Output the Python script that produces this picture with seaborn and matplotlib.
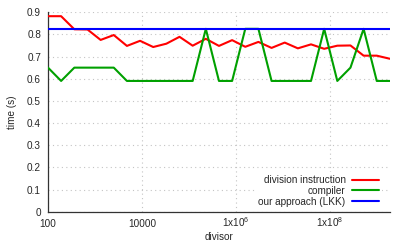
import numpy as np
import pandas as pd
import seaborn as sns
import matplotlib
matplotlib.use("Agg")
import matplotlib.pyplot as plt
from matplotlib.ticker import FixedLocator, FixedFormatter, NullLocator

# divisors (log-spaced)
divisor = [100, 190, 363, 692, 1318, 2512, 4786, 9120, 17378, 33113,
           63096, 120226, 229087, 436516, 831764, 1584893, 3019952,
           5754399, 10964782, 20892961, 39810717, 75857758, 144543977,
           275422870, 524807460, 1000000000, 1905000000]

division_instruction = [0.882, 0.882, 0.823, 0.822, 0.775, 0.797, 0.748, 0.771,
                        0.743, 0.758, 0.789, 0.749, 0.780, 0.748, 0.774, 0.744,
                        0.766, 0.739, 0.763, 0.737, 0.755, 0.735, 0.749, 0.750,
                        0.704, 0.704, 0.690]
compiler = [0.65, 0.59, 0.65, 0.65, 0.65, 0.65, 0.59, 0.59, 0.59, 0.59,
            0.59, 0.59, 0.825, 0.59, 0.59, 0.825, 0.825, 0.59, 0.59, 0.59,
            0.59, 0.825, 0.59, 0.65, 0.825, 0.59, 0.59]
our_approach = [0.825] * len(divisor)

series_names = ["division instruction", "compiler", "our approach (LKK)"]
series_colors = ["#ff0000", "#00a000", "#0000ff"]

xtick_values = [1e2, 1e4, 1e6, 1e8]
xtick_labels = ["100", "10000", r"$\mathregular{1x10^{6}}$", r"$\mathregular{1x10^{8}}$"]
ytick_values = [0, 0.1, 0.2, 0.3, 0.4, 0.5, 0.6, 0.7, 0.8, 0.9]
ytick_labels = ["0", "0.1", "0.2", "0.3", "0.4", "0.5", "0.6", "0.7", "0.8", "0.9"]

df = pd.DataFrame({
    "divisor": divisor,
    series_names[0]: division_instruction,
    series_names[1]: compiler,
    series_names[2]: our_approach,
})
df_long = df.melt(id_vars="divisor", var_name="series", value_name="time")

sns.set_style("white")
plt.rcParams["font.family"] = ["Liberation Sans", "DejaVu Sans"]
plt.rcParams["font.size"] = 7.2
plt.rcParams["mathtext.fontset"] = "custom"
plt.rcParams["mathtext.rm"] = "Liberation Sans"
plt.rcParams["mathtext.it"] = "Liberation Sans:italic"

fig = plt.figure(figsize=(4.07, 2.44), dpi=100)
ax = fig.add_axes([0.118, 0.132, 0.840, 0.818])

ax.set_xscale("log")
sns.lineplot(data=df_long, x="divisor", y="time", hue="series",
             hue_order=series_names, palette=series_colors,
             linewidth=1.5, ax=ax, legend=False, zorder=3)

ax.set_xlim(100, 1905000000)
ax.set_ylim(0, 0.9)

ax.xaxis.set_major_locator(FixedLocator(xtick_values))
ax.xaxis.set_major_formatter(FixedFormatter(xtick_labels))
ax.xaxis.set_minor_locator(NullLocator())
ax.set_yticks(ytick_values)
ax.set_yticklabels(ytick_labels)

ax.grid(True, which="major", color="#c4c4c4", linestyle=(0, (1, 3)), linewidth=0.8)
ax.set_axisbelow(True)
for side in ["top", "right"]:
    ax.spines[side].set_visible(False)
for side in ["left", "bottom"]:
    ax.spines[side].set_color("#333333")
    ax.spines[side].set_linewidth(0.9)
ax.tick_params(direction="in", length=4.5, width=0.8, color="#333333",
               labelsize=7.2, top=False, right=False)
ax.tick_params(axis="y", pad=5)
# baseline-aligned x labels so the superscript ones line up with "100"
ax.tick_params(axis="x", pad=11.2)
for lbl in ax.get_xticklabels():
    lbl.set_verticalalignment("baseline")

ax.set_xlabel("divisor", fontsize=7.2)
ax.xaxis.set_label_coords(0.5, -0.10)
ax.set_ylabel("time (s)", fontsize=7.2, labelpad=7)

handles = [plt.Line2D([], [], color=c, lw=1.5) for c in series_colors]
leg = ax.legend(handles, series_names, loc="lower right",
                bbox_to_anchor=(0.977, 0.01), markerfirst=False,
                frameon=True, framealpha=1, facecolor="white", edgecolor="none",
                fontsize=7.2, handlelength=2.7, handletextpad=0.65,
                labelspacing=0.08, borderpad=0.3, borderaxespad=0,
                fancybox=False)
leg.set_zorder(5)

fig.savefig("out.png", dpi=100)
